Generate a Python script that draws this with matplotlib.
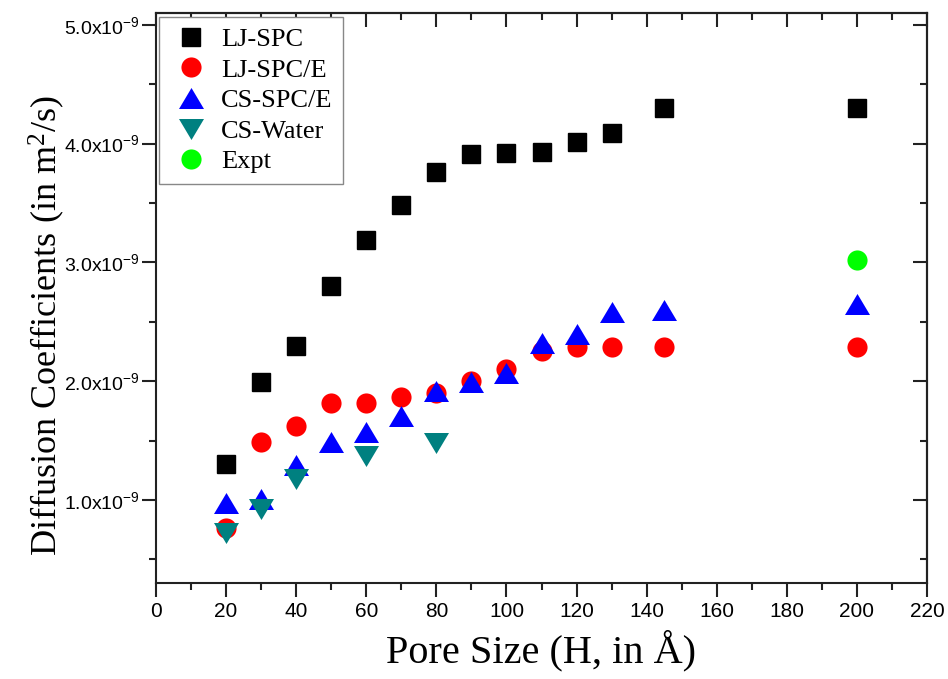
import matplotlib
matplotlib.use("Agg")
import matplotlib.pyplot as plt
import numpy as np
from matplotlib.ticker import MultipleLocator, FuncFormatter

# ---- data (diffusion coefficients in units of 1e-9 m^2/s) ----
pore_lj = [20, 30, 40, 50, 60, 70, 80, 90, 100, 110, 120, 130, 145, 200]
lj_spc = [1.30, 1.99, 2.30, 2.80, 3.19, 3.48, 3.76, 3.91, 3.92, 3.93, 4.01, 4.09, 4.30, 4.30]
lj_spce = [0.76, 1.49, 1.62, 1.82, 1.82, 1.87, 1.90, 2.00, 2.10, 2.25, 2.29, 2.29, 2.29, 2.29]
cs_spce = [0.97, 1.01, 1.29, 1.49, 1.57, 1.71, 1.92, 1.99, 2.07, 2.32, 2.40, 2.58, 2.60, 2.65]
pore_csw = [20, 30, 40, 60, 80]
cs_water = [0.72, 0.92, 1.18, 1.37, 1.48]
pore_expt = [200]
expt = [3.02]
scale = 1e-9

plt.rcParams['mathtext.default'] = 'regular'

fig = plt.figure(figsize=(9.48, 6.79), dpi=100)
ax = fig.add_axes([156/948, 1-583/679, (927-156)/948, (583-13)/679])

up_tri = [(0, 0.84), (-1, -0.84), (1, -0.84), (0, 0.84)]
dn_tri = [(0, -0.84), (-1, 0.84), (1, 0.84), (0, -0.84)]

def sc(v):
    return np.array(v) * scale

ax.plot(pore_lj, sc(lj_spc), ls='none', marker='s', ms=13, color='black', mec='black', label='LJ-SPC')
ax.plot(pore_lj, sc(lj_spce), ls='none', marker='o', ms=14.5, color='#ff0000', mec='none', label='LJ-SPC/E')
ax.plot(pore_lj, sc(cs_spce), ls='none', marker=up_tri, ms=18, color='#0000ff', mec='none', label='CS-SPC/E')
ax.plot(pore_csw, sc(cs_water), ls='none', marker=dn_tri, ms=18, color='#008080', mec='none', label='CS-Water')
ax.plot(pore_expt, sc(expt), ls='none', marker='o', ms=14.5, color='#00ff00', mec='none', label='Expt')

ax.set_xlim(0, 220)
ax.set_ylim(0.3e-9, 5.1e-9)
ax.xaxis.set_major_locator(MultipleLocator(20))
ax.xaxis.set_minor_locator(MultipleLocator(10))
ax.yaxis.set_major_locator(MultipleLocator(1.0e-9))
ax.yaxis.set_minor_locator(MultipleLocator(0.5e-9))
ax.yaxis.set_major_formatter(FuncFormatter(lambda v, p: f"{v/scale:.1f}x10$^{{-9}}$"))

for s in ax.spines.values():
    s.set_linewidth(1.5)
    s.set_color('#222222')

ax.tick_params(which='both', direction='out', width=1.5, color='#222222')
ax.tick_params(which='major', length=10)
ax.tick_params(which='minor', length=5)
ax.tick_params(axis='x', labelsize=15, pad=4)
ax.tick_params(axis='y', labelsize=14, pad=1.5)
for lab in ax.get_xticklabels() + ax.get_yticklabels():
    lab.set_fontfamily('Liberation Sans')

# mirrored inward ticks on top and right
axt = ax.secondary_xaxis('top')
axt.set_xticks(np.arange(0, 221, 20))
axt.xaxis.set_minor_locator(MultipleLocator(10))
axt.tick_params(which='both', direction='in', width=1.5, color='#222222', labeltop=False)
axt.tick_params(which='major', length=10)
axt.tick_params(which='minor', length=5)
axt.spines['top'].set_linewidth(1.5)
axr = ax.secondary_yaxis('right')
axr.yaxis.set_major_locator(MultipleLocator(1.0e-9))
axr.yaxis.set_minor_locator(MultipleLocator(0.5e-9))
axr.tick_params(which='both', direction='in', width=1.5, color='#222222', labelright=False)
axr.tick_params(which='major', length=10)
axr.tick_params(which='minor', length=5)
axr.spines['right'].set_linewidth(1.5)

ax.set_xlabel('Pore Size (H, in Å)', fontfamily='Liberation Serif', fontsize=29, labelpad=6)
ax.set_ylabel('Diffusion Coefficients (in m$^2$/s)', fontfamily='Liberation Serif', fontsize=26)
ax.yaxis.set_label_coords(-0.115, 0.451)

leg = ax.legend(loc='upper left', bbox_to_anchor=(0.004, 0.993), borderaxespad=0,
                prop={'family': 'Liberation Serif', 'size': 19}, numpoints=1,
                fancybox=False, framealpha=1, edgecolor='#888888',
                handlelength=1.65, handletextpad=0.3, labelspacing=0.27, borderpad=0.4)
leg.get_frame().set_linewidth(1.0)

fig.savefig('out.png', dpi=100)
